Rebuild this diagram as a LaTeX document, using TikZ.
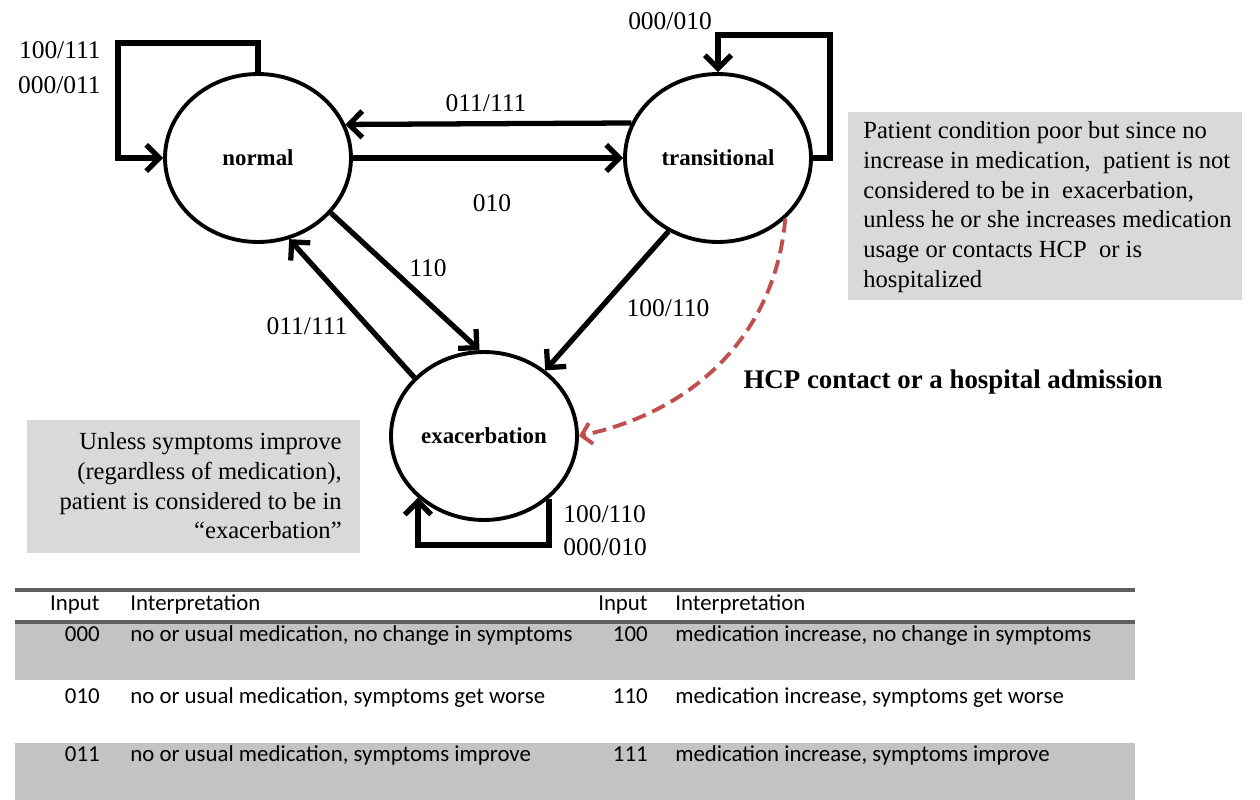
\documentclass[tikz,border=0pt]{standalone}
\usepackage{fontspec}
\setmainfont{Liberation Serif}
\newfontfamily\tabfont{Carlito}[Numbers=Lining]
\usetikzlibrary{shapes.geometric,arrows.meta,calc}
\definecolor{notegray}{RGB}{217,217,217}
\definecolor{rowgray}{RGB}{195,195,195}
\definecolor{rulegray}{RGB}{95,95,95}
\definecolor{hcpred}{RGB}{192,80,77}
\begin{document}
\begin{tikzpicture}[x=0.02cm,y=-0.02cm,
  state/.style={ellipse,draw,line width=2.2pt,minimum width=3.72cm,minimum height=3.36cm,inner sep=0pt,font=\fontsize{13}{15}\selectfont\bfseries},
  arr/.style={line width=3pt,-{Straight Barb[length=7.5pt,width=15pt]}},
  hcp/.style={line width=2.2pt,hcpred,dash pattern=on 8pt off 4pt,-{Straight Barb[length=5.5pt,width=12pt]}},
  lbl/.style={font=\fontsize{14.5}{17}\selectfont,inner sep=0pt},
  notebox/.style={fill=notegray,inner sep=0pt},
  notetext/.style={inner sep=0pt,font=\fontsize{14}{16.9}\selectfont},
  tab/.style={font=\tabfont\fontsize{13}{15}\selectfont,inner sep=0pt,text height=1.6ex,text depth=0.5ex},
  rule/.style={line width=2pt,rulegray}]
\useasboundingbox (0,0) rectangle (1260,800);

% gray notes
\node[notebox,minimum width=7.88cm,minimum height=3.76cm] (note1) at (1045,206) {};
\node[notetext,anchor=west,align=left] (note1t) at (863,207)
 {Patient condition poor but since no\\increase in medication, \ patient is not\\considered to be in \ exacerbation,\\unless he or she increases medication\\usage or contacts HCP \ or is\\hospitalized};
\node[notebox,minimum width=6.66cm,minimum height=2.66cm] (note2) at (193.5,486.5) {};
\node[notetext,anchor=east,align=right] (note2t) at (342,486)
 {Unless symptoms improve\\(regardless of medication),\\patient is considered to be in\\``exacerbation''};

% states
\node[state] (normal) at (258,158) {normal};
\node[state] (trans) at (718,158) {transitional};
\node[state] (exac) at (484,436) {exacerbation};

% edges between normal and transitional
\draw[arr] (trans.158.9) -- (normal.21.1);
\draw[arr] (normal.east) -- (trans.west);
% diagonals
\draw[arr] (normal.-37) -- (exac.93);
\draw[arr] (exac.140) -- (normal.-69);
\draw[arr] (trans.236) -- (exac.47);
% hcp dashed
\draw[hcp] (trans.-42) to[out=-95,in=12] (exac.east);

% self loops
\coordinate (nl) at (118,43);
\draw[arr] (normal.north) |- (nl) |- (normal.west);
\coordinate (tl) at (830,35);
\draw[arr] (trans.east) -| (tl) -| (trans.north);
\coordinate (ebot) at (0,545);
\coordinate (ea) at (exac.-44);
\coordinate (eb) at (exac.-137);
\draw[arr] (ea) -- (ea |- ebot) -- (eb |- ebot) -- (eb);

% labels
\node[lbl,anchor=east] (l1) at (101,50) {100/111};
\node[lbl,anchor=east] (l2) at (101,85) {000/011};
\node[lbl] (l3) at (670,21) {000/010};
\node[lbl] (l4) at (486,103) {011/111};
\node[lbl] (l5) at (492,203) {010};
\node[lbl] (l6) at (428,268) {110};
\node[lbl] (l7) at (307,326) {011/111};
\node[lbl] (l8) at (668,308) {100/110};
\node[lbl,anchor=west] (l9) at (563,514) {100/110};
\node[lbl,anchor=west] (l10) at (563,547) {000/010};
\node[lbl,font=\fontsize{15.3}{17}\selectfont\bfseries] (l11) at (953,382) {HCP contact or a hospital admission};

% table
\fill[rowgray] (15,622) rectangle (1135,680);
\fill[rowgray] (15,743) rectangle (1135,800);
\draw[rule] (15,590) -- (1135,590);
\draw[rule] (15,622) -- (1135,622);

\node[tab,anchor=east] (h1) at (100,606) {Input};
\node[tab,anchor=west] (h2) at (130,606) {Interpretation};
\node[tab,anchor=east] (h3) at (648,606) {Input};
\node[tab,anchor=west] (h4) at (675,606) {Interpretation};

\node[tab,anchor=east] (a1) at (100,637) {000};
\node[tab,anchor=west] (b1) at (130,637) {no or usual medication, no change in symptoms};
\node[tab,anchor=east] (c1) at (648,637) {100};
\node[tab,anchor=west] (d1) at (675,637) {medication increase, no change in symptoms};

\node[tab,anchor=east] (a2) at (100,699) {010};
\node[tab,anchor=west] (b2) at (130,699) {no or usual medication, symptoms get worse};
\node[tab,anchor=east] (c2) at (648,699) {110};
\node[tab,anchor=west] (d2) at (675,699) {medication increase, symptoms get worse};

\node[tab,anchor=east] (a3) at (100,757) {011};
\node[tab,anchor=west] (b3) at (130,757) {no or usual medication, symptoms improve};
\node[tab,anchor=east] (c3) at (648,757) {111};
\node[tab,anchor=west] (d3) at (675,757) {medication increase, symptoms improve};
\end{tikzpicture}
\end{document}
